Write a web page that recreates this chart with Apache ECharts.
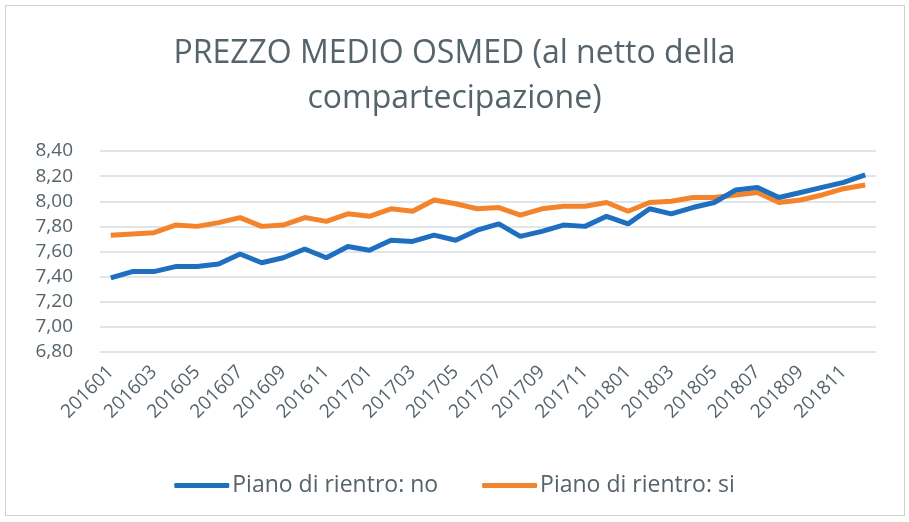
<!DOCTYPE html>
<html>
<head>
<meta charset="utf-8">
<script src="https://cdn.jsdelivr.net/npm/echarts@6/dist/echarts.min.js"></script>
<style>
    html, body { margin: 0; padding: 0; background: #fff; }
    #box { position: absolute; left: 5px; top: 5px; width: 898px; height: 509px; border: 1px solid #d0d0d0; }
    #main { position: absolute; left: 0; top: 0; width: 909px; height: 522px; }
</style>
</head>
<body>
<div id="box"></div>
<div id="main"></div>
<script>
// mesi 201601 - 201812
var mesi = [];
for (var a = 2016; a <= 2018; a++) {
    for (var m = 1; m <= 12; m++) {
        mesi.push(a + (m < 10 ? '0' : '') + m);
    }
}

// Piano di rientro: no
var rientroNo = [7.39, 7.44, 7.44, 7.48, 7.48, 7.50, 7.58, 7.51, 7.55, 7.62, 7.55, 7.64,
                 7.61, 7.69, 7.68, 7.73, 7.69, 7.77, 7.82, 7.72, 7.76, 7.81, 7.80, 7.88,
                 7.82, 7.94, 7.90, 7.95, 7.99, 8.09, 8.11, 8.03, 8.07, 8.11, 8.15, 8.21];

// Piano di rientro: si
var rientroSi = [7.73, 7.74, 7.75, 7.81, 7.80, 7.83, 7.87, 7.80, 7.81, 7.87, 7.84, 7.90,
                 7.88, 7.94, 7.92, 8.01, 7.98, 7.94, 7.95, 7.89, 7.94, 7.96, 7.96, 7.99,
                 7.92, 7.99, 8.00, 8.03, 8.03, 8.05, 8.07, 7.99, 8.01, 8.05, 8.10, 8.13];

var font = '"Open Sans", sans-serif';
var grigio = '#55636a';

var myChart = echarts.init(document.getElementById('main'));

var option = {
    title: {
        text: 'PREZZO MEDIO OSMED (al netto della\ncompartecipazione)',
        left: 'center',
        top: 26,
        textStyle: {
            fontFamily: font,
            fontSize: 32,
            fontWeight: 'normal',
            color: grigio,
            lineHeight: 45
        }
    },
    legend: {
        top: 469,
        left: 'center',
        itemWidth: 55,
        itemHeight: 5,
        itemGap: 44,
        icon: 'roundRect',
        textStyle: { fontFamily: font, fontSize: 23, color: grigio, padding: [0, 0, 0, -2] },
        data: ['Piano di rientro: no', 'Piano di rientro: si']
    },
    grid: {
        left: 100,
        right: 33,
        top: 151,
        bottom: 170
    },
    xAxis: {
        type: 'category',
        data: mesi,
        boundaryGap: true,
        axisLine: { show: false },
        axisTick: { show: false },
        axisLabel: {
            interval: 1,
            rotate: 45,
            margin: 17,
            fontFamily: font,
            fontSize: 19,
            color: grigio
        }
    },
    yAxis: {
        type: 'value',
        min: 6.8,
        max: 8.4,
        interval: 0.2,
        axisLine: { show: false },
        axisTick: { show: false },
        axisLabel: {
            margin: 27,
            fontFamily: font,
            fontSize: 19,
            color: grigio,
            formatter: function (v) { return v.toFixed(2).replace('.', ','); }
        },
        splitLine: { lineStyle: { color: '#d5dde2', width: 1.5 } }
    },
    series: [
        {
            name: 'Piano di rientro: no',
            type: 'line',
            data: rientroNo,
            showSymbol: false,
            color: '#1f6fc0',
            lineStyle: { width: 5, color: '#1f6fc0' },
            z: 3
        },
        {
            name: 'Piano di rientro: si',
            type: 'line',
            data: rientroSi,
            showSymbol: false,
            color: '#f4842c',
            lineStyle: { width: 5, color: '#f4842c' },
            z: 2
        }
    ]
};
myChart.setOption(option);
</script>
</body>
</html>
